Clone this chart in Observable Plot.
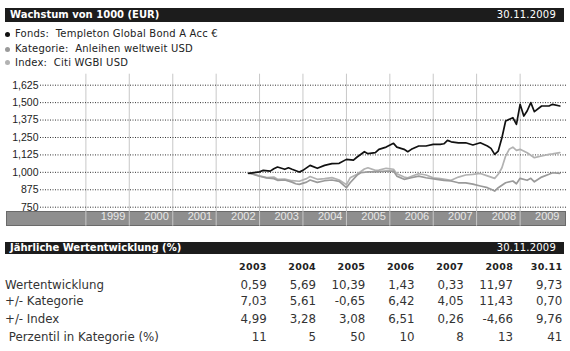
<!DOCTYPE html>
<html><head><meta charset="utf-8">
<script src="https://cdn.jsdelivr.net/npm/d3@7"></script>
<script src="https://cdn.jsdelivr.net/npm/@observablehq/plot@0.6"></script>
<style>
html,body{margin:0;padding:0;background:#fff;}
body{width:570px;height:351px;position:relative;overflow:hidden;font-family:"DejaVu Sans",Verdana,sans-serif;}
.bar{position:absolute;left:5px;width:559px;background:#1c1c1c;color:#fff;font-size:10px;white-space:pre;}
.bar .l{position:absolute;left:5px;font-weight:bold;}
.bar .r{position:absolute;right:8px;letter-spacing:0.2px;}
.leg{position:absolute;left:0;height:14px;line-height:14px;font-size:10px;color:#222;white-space:pre;letter-spacing:0.2px;}
.leg .dot{position:absolute;left:5px;top:4.5px;width:5px;height:5px;border-radius:50%;}
.leg .t{position:absolute;left:15px;}
#band{position:absolute;left:6px;top:211px;width:558px;height:13px;background:#8e8e8e;border:1px solid #6a6a6a;}
#chart{position:absolute;left:0;top:68px;}
.cell{position:absolute;white-space:pre;color:#333;font-size:11.8px;line-height:16px;}
.hd{font-weight:bold;font-size:9.5px;color:#222;letter-spacing:0.3px;}
</style></head>
<body>
<div class="bar" style="top:8px;height:14px;line-height:14px;"><span class="l">Wachstum von 1000 (EUR)</span><span class="r">30.11.2009</span></div>
<div id="legend"></div>
<div id="band"></div>
<div id="chart"></div>
<div class="bar" style="top:242px;height:12px;line-height:12px;"><span class="l">Jährliche Wertentwicklung (%)</span><span class="r">30.11.2009</span></div>
<div id="table"></div>
<script>
// ---- data ----
const seriesNames = ["Fonds:  Templeton Global Bond A Acc €", "Kategorie:  Anleihen weltweit USD", "Index:  Citi WGBI USD"];
const seriesColors = ["#111111", "#9a9a9a", "#b2b2b2"];

const fundMonths = ["2002-09","2002-12","2003-01","2003-03","2003-04","2003-05","2003-07","2003-08","2003-09","2003-11","2003-12","2004-02","2004-04","2004-06","2004-08","2004-10","2004-12","2005-02","2005-03","2005-05","2005-06","2005-08","2005-09","2005-11","2006-01","2006-02","2006-04","2006-05","2006-06","2006-08","2006-10","2006-12","2007-02","2007-03","2007-04","2007-05","2007-07","2007-09","2007-11","2008-01","2008-03","2008-04","2008-05","2008-06","2008-07","2008-08","2008-10","2008-11","2008-12","2009-01","2009-02","2009-03","2009-04","2009-06","2009-08","2009-09","2009-11"];
const fundValues = [992,1004,1014,1009,1026,1038,1022,1033,1022,1002,1014,1050,1029,1050,1062,1065,1093,1088,1110,1148,1134,1141,1165,1181,1208,1181,1165,1148,1165,1189,1189,1201,1201,1205,1229,1219,1212,1212,1196,1212,1189,1172,1129,1153,1248,1368,1392,1344,1488,1404,1440,1500,1435,1476,1476,1488,1476];

const catMonths = ["2002-09","2002-12","2003-02","2003-04","2003-05","2003-07","2003-09","2003-10","2003-11","2004-01","2004-02","2004-04","2004-06","2004-08","2004-10","2004-12","2005-01","2005-03","2005-04","2005-06","2005-08","2005-11","2006-01","2006-02","2006-04","2006-06","2006-08","2006-10","2007-01","2007-03","2007-05","2007-07","2007-09","2007-11","2008-01","2008-03","2008-04","2008-05","2008-06","2008-08","2008-10","2008-11","2008-12","2009-02","2009-03","2009-04","2009-06","2009-08","2009-09","2009-11"];
const catValues = [995,972,960,955,943,945,930,918,914,930,945,928,940,945,935,890,925,980,997,1004,1004,1009,1009,973,950,961,973,961,950,943,938,925,925,915,902,890,878,866,890,925,938,918,957,943,957,932,966,986,997,993];

const idxMonths = ["2002-09","2002-12","2003-02","2003-04","2003-05","2003-07","2003-09","2003-11","2004-01","2004-02","2004-04","2004-06","2004-08","2004-10","2004-12","2005-01","2005-03","2005-05","2005-06","2005-08","2005-09","2005-11","2006-01","2006-02","2006-04","2006-05","2006-07","2006-08","2006-10","2006-12","2007-02","2007-05","2007-07","2007-09","2007-11","2008-01","2008-03","2008-05","2008-06","2008-07","2008-08","2008-09","2008-10","2008-11","2008-12","2009-02","2009-04","2009-06","2009-08","2009-09","2009-11"];
const idxValues = [995,975,962,966,950,952,940,936,955,970,950,955,962,945,912,961,986,1024,1033,1014,1016,1029,1022,990,966,961,981,990,981,961,955,943,966,981,985,992,975,957,986,1033,1117,1165,1181,1158,1165,1141,1105,1117,1129,1132,1141];

const yTicks = [750, 875, 1000, 1125, 1250, 1375, 1500, 1625];
const gridYears = [1999,2000,2001,2002,2003,2004,2005,2006,2007,2008,2009];
const bandYears = [1999,2000,2001,2002,2003,2004,2005,2006,2007,2008,2009];

const tableHeader = ["2003","2004","2005","2006","2007","2008","30.11"];
const rowLabels = ["Wertentwicklung", "+/- Kategorie", "+/- Index", " Perzentil in Kategorie (%)"];
const rowWert = [0.59, 5.69, 10.39, 1.43, 0.33, 11.97, 9.73];
const rowKat = [7.03, 5.61, -0.65, 6.42, 4.05, 11.43, 0.70];
const rowIdx = [4.99, 3.28, 3.08, 6.51, 0.26, -4.66, 9.76];
const rowPerz = [11, 5, 50, 10, 8, 13, 41];

// ---- build ----
const toDate = s => { const [y, m] = s.split("-").map(Number); return new Date(Date.UTC(y, m, 1)); };
const mk = (months, values, name) => months.map((m, i) => ({date: toDate(m), value: values[i], name}));
const data = [
  ...mk(idxMonths, idxValues, seriesNames[2]),
  ...mk(catMonths, catValues, seriesNames[1]),
  ...mk(fundMonths, fundValues, seriesNames[0])
];

// legend
const leg = document.getElementById("legend");
const legTops = [27.3, 42, 55.7];
seriesNames.forEach((n, i) => {
  const d = document.createElement("div");
  d.className = "leg"; d.style.top = legTops[i] + "px";
  d.innerHTML = `<span class="dot" style="background:${seriesColors[i]}"></span><span class="t"></span>`;
  d.querySelector(".t").textContent = n;
  leg.appendChild(d);
});

const xDomain = [new Date(Date.UTC(1998,0,1)), new Date(Date.UTC(2010,0,1))];
const chart = Plot.plot({
  width: 570, height: 162,
  marginLeft: 42, marginRight: 7, marginTop: 16.7, marginBottom: 23.3,
  style: {background: "transparent", fontFamily: "'Liberation Sans', Arial, sans-serif", fontSize: "10.5px", overflow: "visible"},
  x: {type: "utc", domain: xDomain, axis: null},
  y: {domain: [750, 1625], axis: null},
  color: {domain: seriesNames, range: seriesColors},
  marks: [
    Plot.ruleX(gridYears, {x: d => new Date(Date.UTC(d,0,1)), stroke: "#c8c8c8", strokeWidth: 1, insetTop: -11, insetBottom: -19}),
    Plot.ruleY(yTicks, {y: d => d, stroke: "#333", strokeWidth: 1, strokeDasharray: "1,1.5", insetLeft: -2, insetRight: -3}),
    Plot.text(yTicks, {x: xDomain[0], y: d => d, text: d => d3.format(",")(d), textAnchor: "end", dx: -4, fill: "#222"}),
    Plot.text(bandYears, {x: d => new Date(Date.UTC(d+1,0,1)), frameAnchor: "bottom", dy: 12.5, dx: -4, text: d => String(d), textAnchor: "end", fill: "#e8e8e8", fontSize: 11}),
    Plot.line(data, {x: "date", y: "value", z: "name", stroke: "name", strokeWidth: 1.7})
  ]
});
document.getElementById("chart").appendChild(chart);

// table
const fmtDe = d3.formatLocale({decimal: ",", thousands: ".", grouping: [3], currency: ["", "€"], minus: "-"});
const f2 = fmtDe.format(".2f"), f0 = fmtDe.format("d");
const rows = [rowWert, rowKat, rowIdx, rowPerz];
const rowY = [276.5, 293.3, 310.7, 329];
const colRight = tableHeader.map((_, i) => 266.7 + i * 49.27);
const tbl = document.getElementById("table");
const addCell = (txt, left, right, top, cls) => {
  const c = document.createElement("div");
  c.className = "cell" + (cls ? " " + cls : "");
  c.textContent = txt;
  c.style.top = top + "px";
  if (left != null) c.style.left = left + "px"; else c.style.right = (570 - right) + "px";
  tbl.appendChild(c);
};
tableHeader.forEach((h, i) => addCell(h, null, colRight[i], 259, "hd"));
rowLabels.forEach((l, r) => {
  addCell(l, 5, null, rowY[r]);
  rows[r].forEach((v, i) => addCell(r === 3 ? f0(v) : f2(v), null, colRight[i], rowY[r]));
});
</script>
</body></html>
